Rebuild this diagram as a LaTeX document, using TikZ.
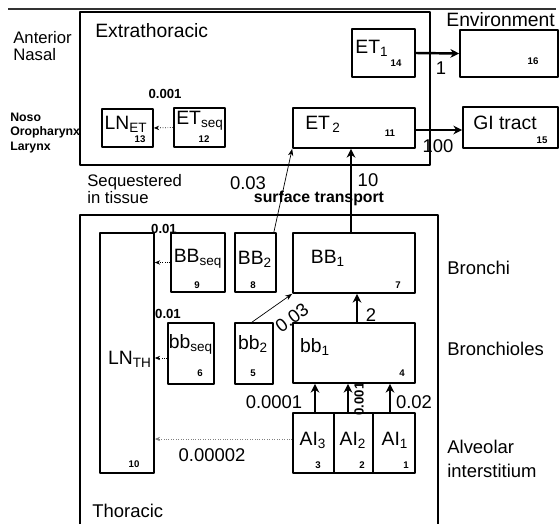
\documentclass[tikz,border=0pt]{standalone}
\usepackage{fontspec}
\setmainfont{Liberation Sans}
\usetikzlibrary{calc, arrows.meta}
\tikzset{
  comp/.style={draw, line width=1pt, inner sep=0pt},
  region/.style={draw, semithick},
  cname/.style={font=\fontsize{11}{12}\selectfont, inner sep=0pt},
  cnum/.style={font=\fontsize{5.5}{6}\selectfont\bfseries, inner sep=0pt},
  rate/.style={font=\fontsize{10.5}{12}\selectfont, inner sep=0pt},
  srate/.style={font=\fontsize{7.5}{8}\selectfont\bfseries, inner sep=0pt},
  side/.style={font=\fontsize{10.5}{12}\selectfont, inner sep=0pt, anchor=west},
  flow/.style={-{Stealth[length=5pt, width=5pt]}, line width=1.4pt},
  thinflow/.style={-{Stealth[length=4pt, width=3pt]}, thin},
  seqflow/.style={-{Stealth[length=3pt, width=2.5pt]}, thin, densely dotted},
}
\begin{document}
\begin{tikzpicture}[x=0.02cm, y=-0.02cm, line join=round]
	\useasboundingbox (0,0) rectangle (560,524);
	% top rule and regions
	\draw[line width=1.2pt, black!80] (8,9) -- (556,9);
	\draw[region] (80,12) rectangle (430,165);
	\draw[region] (80,524) -- (80,215) -- (438,215) -- (438,524);
	\node[font=\fontsize{11}{12}\selectfont, anchor=west, inner sep=0pt] (extra) at (95,31) {Extrathoracic};
	\node[font=\fontsize{11}{12}\selectfont, anchor=west, inner sep=0pt] (envlbl) at (446,20) {Environment};
	\node[font=\fontsize{10.5}{12}\selectfont, anchor=west, inner sep=0pt] (thor) at (92,511) {Thoracic};
	\node[font=\fontsize{9.5}{9.2}\selectfont, anchor=west, align=left, inner sep=0pt] (antnas) at (13,46) {Anterior\\Nasal};
	\node[font=\fontsize{7}{8.2}\selectfont\bfseries, anchor=west, align=left, inner sep=0pt] (noso) at (10,133) {Noso\\Oropharynx\\Larynx};
	\node[font=\fontsize{9.5}{8.4}\selectfont, anchor=west, align=left, inner sep=0pt] (seqt) at (87,189) {Sequestered\\in tissue};
	
	% extrathoracic compartments
	\node[comp, minimum width=1.02cm, minimum height=0.76cm] (LNET) at (127.5,128) {};
	\node[cname] (LNET-t) at (126,124) {LN\textsubscript{ET}};
	\node[cnum] (LNET-n) at (140,139) {13};
	\node[comp, minimum width=1.02cm, minimum height=0.78cm] (ETseq) at (199.5,127.5) {};
	\node[cname] (ETseq-t) at (200,121) {ET\textsubscript{seq}};
	\node[cnum] (ETseq-n) at (204,139) {12};
	\node[comp, minimum width=1.26cm, minimum height=0.96cm] (ET1) at (383.5,53) {};
	\node[cname] (ET1-t) at (372,48) {ET\textsubscript{1}};
	\node[cnum] (ET1-n) at (396,63) {14};
	\node[comp, minimum width=2.44cm, minimum height=0.80cm] (ET2) at (354,128) {};
	\node[cname] (ET2-t) at (323,124) {ET\textsubscript{\,2}};
	\node[cnum] (ET2-n) at (390,133) {11};
	\node[comp, minimum width=1.96cm, minimum height=0.94cm] (Env) at (509,53.5) {};
	\node[cnum] (Env-n) at (533,61) {16};
	\node[comp, minimum width=1.90cm, minimum height=0.82cm] (GI) at (510.5,127.5) {};
	\node[cname] (GI-t) at (505,123) {GI tract};
	\node[cnum] (GI-n) at (542,140) {15};
	
	% thoracic compartments
	\node[comp, minimum width=1.08cm, minimum height=4.80cm] (LNTH) at (127,353) {};
	\node[cname] (LNTH-t) at (130,359) {LN\textsubscript{TH}};
	\node[cnum] (LNTH-n) at (134,464) {10};
	\node[comp, minimum width=1.08cm, minimum height=1.18cm] (BBseq) at (198,262.5) {};
	\node[cname] (BBseq-t) at (198,259) {BB\textsubscript{seq}};
	\node[cnum] (BBseq-n) at (197,285) {9};
	\node[comp, minimum width=0.82cm, minimum height=1.18cm] (BB2) at (255.5,262.5) {};
	\node[cname] (BB2-t) at (255,259) {BB\textsubscript{2}};
	\node[cnum] (BB2-n) at (253,285) {8};
	\node[comp, minimum width=2.44cm, minimum height=1.20cm] (BB1) at (354,263) {};
	\node[cname] (BB1-t) at (328,258) {BB\textsubscript{1}};
	\node[cnum] (BB1-n) at (398,285) {7};
	\node[comp, minimum width=0.92cm, minimum height=1.22cm] (bbseq) at (191,353.5) {};
	\node[cname] (bbseq-t) at (191,344) {bb\textsubscript{seq}};
	\node[cnum] (bbseq-n) at (200,373) {6};
	\node[comp, minimum width=0.76cm, minimum height=1.22cm] (bb2) at (254,353.5) {};
	\node[cname] (bb2-t) at (253,344) {bb\textsubscript{2}};
	\node[cnum] (bb2-n) at (253,373) {5};
	\node[comp, minimum width=2.44cm, minimum height=1.20cm] (bb1) at (354,353) {};
	\node[cname] (bb1-t) at (315,347) {bb\textsubscript{1}};
	\node[cnum] (bb1-n) at (402,373) {4};
	\node[comp, minimum width=0.82cm, minimum height=1.20cm] (AI3) at (313.5,443) {};
	\node[cname] (AI3-t) at (313,440) {AI\textsubscript{3}};
	\node[cnum] (AI3-n) at (318,465) {3};
	\node[comp, minimum width=0.78cm, minimum height=1.20cm] (AI2) at (353.5,443) {};
	\node[cname] (AI2-t) at (353,440) {AI\textsubscript{2}};
	\node[cnum] (AI2-n) at (362,465) {2};
	\node[comp, minimum width=0.84cm, minimum height=1.20cm] (AI1) at (394,443) {};
	\node[cname] (AI1-t) at (395,440) {AI\textsubscript{1}};
	\node[cnum] (AI1-n) at (406,465) {1};
	
	\node[side] (bron) at (447,268) {Bronchi};
	\node[side] (bronl) at (447,349) {Bronchioles};
	\node[side, align=left, font=\fontsize{10.5}{13.5}\selectfont] (alv) at (447,459) {Alveolar\\interstitium};
	
	% clearance
	\draw[flow] (ET1.east) -- (Env.west);
	\node[rate] (r1) at (441,68) {1};
	\draw[flow] (ET2.east |- 0,130) -- (GI.west |- 0,130);
	\node[rate] (r100) at (438,146) {100};
	\draw[flow] ($(BB1.north)+(-3,0)$) -- ($(ET2.south)+(-3,0)$);
	\node[rate] (r10) at (368,180) {10};
	\draw[thinflow] ($(BB2.north east)+(-3,0)$) -- (ET2.south west);
	\node[rate] (r003a) at (248,183) {0.03};
	\node[font=\fontsize{9}{10}\selectfont\bfseries, inner sep=0pt] (surf) at (319,198) {surface transport};
	\draw[flow] ($(bb1.north)+(3,0)$) -- ($(BB1.south)+(3,0)$);
	\node[rate] (r2) at (371,315) {2};
	\draw[thinflow] ($(bb2.north)+(-2,0)$) -- (BB1.south west);
	\node[rate, rotate=37] (r003b) at (292,318) {0.03};
	\draw[flow] ($(AI3.north)+(1.5,0)$) -- ($(AI3.north |- bb1.south)+(1.5,0)$);
	\draw[flow] ($(AI2.north)+(-5.5,0)$) -- ($(AI2.north |- bb1.south)+(-5.5,0)$);
	\draw[flow] ($(AI1.north)+(-4,0)$) -- ($(AI1.north |- bb1.south)+(-4,0)$);
	\node[rate] (r1e4) at (274,402) {0.0001};
	\node[srate, rotate=90] (r1e3) at (359,399) {0.001};
	\node[rate] (r2e2) at (414,402) {0.02};
	
	% to lymph nodes
	\draw[seqflow] (ETseq.west) -- (LNET.east);
	\node[srate] (rlnet) at (165,94) {0.001};
	\draw[seqflow] (BBseq.west) -- (LNTH.east |- BBseq.west);
	\node[srate] (rbbs) at (164,229) {0.01};
	\draw[seqflow] (bbseq.west |- 0,358) -- (LNTH.east |- 0,358);
	\node[srate] (rbbs2) at (168,314) {0.01};
	\draw[seqflow, gray] (AI3.west |- 0,439) -- (LNTH.east |- 0,439);
	\node[rate] (rai) at (212,455) {0.00002};
\end{tikzpicture}
\end{document}
